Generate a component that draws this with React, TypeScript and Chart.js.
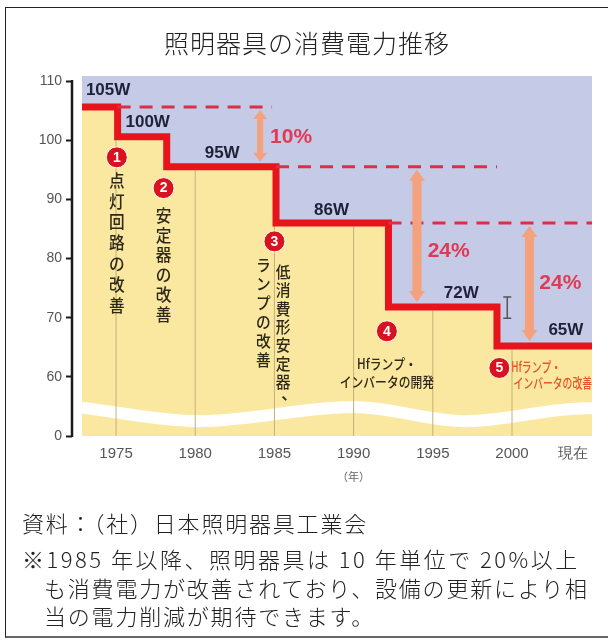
import React, { useEffect, useRef } from "react";
import { Chart, registerables } from "chart.js";
Chart.register(...registerables);

// ---------- data ----------
const stepYears = [1972.85, 1975.1, 1978.2, 1985.1, 1992.2, 1999.05];
const stepWatts = [105.6, 100.6, 95.5, 86.0, 71.8, 65.2];
const endYear = 2005.05;

const wattLabels = ["105W", "100W", "95W", "86W", "72W", "65W"];
const wattLabelYears = [1974.5, 1977.0, 1981.7, 1988.6, 1996.8, 2003.4];
const wattLabelValues = [108.4, 103.0, 97.8, 88.2, 74.2, 67.9];

const xTickValues = [1975, 1980, 1985, 1990, 1995, 2000, 2003.85];
const xTickLabels = ["1975", "1980", "1985", "1990", "1995", "2000", "現在"];
const yTickValues = [50, 60, 70, 80, 90, 100, 110];
const yTickLabels = ["0", "60", "70", "80", "90", "100", "110"];
const gridYears = [1975, 1980, 1985, 1990, 1995, 2000];

const waveYears = [1972.85, 1980.2, 1990.0, 1997.1, 2004.7, 2005.05];
const waveValues = [54.8, 52.5, 54.9, 52.5, 54.7, 54.7];

const dashFromYears = [1975.1, 1985.1, 1992.2];
const dashToYears = [1984.85, 1999.05, 2005.05];
const dashValues = [105.6, 95.5, 86.0];

const arrowYears = [1984.1, 1994.0, 2001.1];
const arrowTops = [105.6, 95.5, 86.0];
const arrowBottoms = [95.5, 71.8, 65.2];
const pctLabels = ["10%", "24%", "24%"];
const pctYears = [1986.05, 1996.0, 2003.05];
const pctValues = [100.5, 81.25, 75.8];

const stepNumbers = ["1", "2", "3", "4", "5"];
const numberYears = [1975.05, 1978.0, 1985.0, 1992.1, 1999.2];
const numberValues = [97.1, 91.9, 82.9, 67.7, 61.5];

const verticalTexts = ["点灯回路の改善", "安定器の改善", "低消費形安定器、", "ランプの改善"];
const verticalYears = [1975.05, 1978.0, 1985.55, 1984.3];
const verticalStartValues = [93.2, 87.3, 77.7, 78.9];

const hf4Lines = ["Hfランプ・", "インバータの開発"];
const hf4Years = [1992.1, 1992.1];
const hf4Values = [62.2, 59.1];
const hf5Lines = ["Hfランプ・", "インバータの改善"];
const hf5Years = [1999.95, 2000.1];
const hf5Values = [61.8, 59.0];

const cursorYear = 1999.7;
const cursorValues = [73.5, 69.9];

const yearUnitLabel = "（年）";
const yearUnitYear = 1990;
const yearUnitValue = 43.1;

const titleText = "照明器具の消費電力推移";
const noteLines = [
  "資料：（社）日本照明器具工業会",
  "※1985 年以降、照明器具は 10 年単位で 20%以上",
  "も消費電力が改善されており、設備の更新により相",
  "当の電力削減が期待できます。",
];

// ---------- helpers ----------
const JP = "'Noto Sans CJK JP', 'Noto Sans', sans-serif";
const LAT = "'Liberation Sans', Arial, sans-serif";

function drawText(ctx: any, text: string, cx: number, cy: number, font: string, color: string, align: string, sx = 1) {
  ctx.save();
  ctx.translate(cx, cy);
  ctx.scale(sx, 1);
  ctx.font = font;
  ctx.fillStyle = color;
  ctx.textAlign = align;
  ctx.textBaseline = "middle";
  ctx.fillText(text, 0, 0);
  ctx.restore();
}

const axisLinePlugin = {
  id: "axisLine",
  afterDraw(chart: any) {
    const { ctx, chartArea, scales } = chart;
    const y = scales.y;
    ctx.save();
    ctx.strokeStyle = "#1a1a1a";
    ctx.lineWidth = 2.5;
    ctx.beginPath();
    ctx.moveTo(chartArea.left, y.getPixelForValue(yTickValues[yTickValues.length - 1]) - 1);
    ctx.lineTo(chartArea.left, y.getPixelForValue(yTickValues[0]) + 1);
    ctx.stroke();
    ctx.restore();
  },
};

const annotationPlugin = {
  id: "annotations",
  afterDatasetsDraw(chart: any) {
    const { ctx, scales } = chart;
    const x = scales.x;
    const y = scales.y;
    ctx.save();
    // arrows
    arrowYears.forEach((yr, i) => {
      const px = x.getPixelForValue(yr);
      const top = y.getPixelForValue(arrowTops[i]) + 3;
      const bot = y.getPixelForValue(arrowBottoms[i]) - 5;
      const shaft = i === 0 ? 6 : 9;
      const hw = i === 0 ? 7 : 8;
      const hl = i === 0 ? 9 : 11;
      ctx.fillStyle = "#f4a27e";
      ctx.fillRect(px - shaft / 2, top + hl - 1, shaft, bot - top - 2 * hl + 2);
      ctx.beginPath();
      ctx.moveTo(px, top);
      ctx.lineTo(px + hw, top + hl);
      ctx.lineTo(px - hw, top + hl);
      ctx.closePath();
      ctx.fill();
      ctx.beginPath();
      ctx.moveTo(px, bot);
      ctx.lineTo(px + hw, bot - hl);
      ctx.lineTo(px - hw, bot - hl);
      ctx.closePath();
      ctx.fill();
    });
    // watt labels
    wattLabels.forEach((t, i) => {
      drawText(ctx, t, x.getPixelForValue(wattLabelYears[i]), y.getPixelForValue(wattLabelValues[i]), `bold 17px ${LAT}`, "#1e2238", "center");
    });
    // percentage labels
    pctLabels.forEach((t, i) => {
      drawText(ctx, t, x.getPixelForValue(pctYears[i]), y.getPixelForValue(pctValues[i]), `bold 21px ${LAT}`, "#e03a55", "center");
    });
    // circle numbers
    stepNumbers.forEach((t, i) => {
      drawText(ctx, t, x.getPixelForValue(numberYears[i]), y.getPixelForValue(numberValues[i]) + 0.5, `bold 14px ${LAT}`, "#ffffff", "center");
    });
    // vertical texts
    verticalTexts.forEach((t, i) => {
      const px = x.getPixelForValue(verticalYears[i]);
      let py = y.getPixelForValue(verticalStartValues[i]);
      const size = i < 2 ? 17 : 16;
      const step = i === 0 ? 20.8 : i === 1 ? 19.8 : i === 2 ? 18.3 : 19;
      Array.from(t).forEach((ch) => {
        if (ch === "、") {
          drawText(ctx, ch, px + 6, py - 7, `500 ${size}px ${JP}`, "#2e2818", "center");
        } else {
          drawText(ctx, ch, px, py, `500 ${size}px ${JP}`, "#2e2818", "center", 0.92);
        }
        py += step;
      });
    });
    // Hf labels
    hf4Lines.forEach((t, i) => {
      drawText(ctx, t, x.getPixelForValue(hf4Years[i]), y.getPixelForValue(hf4Values[i]), `500 14px ${JP}`, "#2e2818", "center", 0.84);
    });
    hf5Lines.forEach((t, i) => {
      drawText(ctx, t, x.getPixelForValue(hf5Years[i]), y.getPixelForValue(hf5Values[i]), `500 14px ${JP}`, "#e8542a", "left", 0.7);
    });
    // year unit
    drawText(ctx, yearUnitLabel, x.getPixelForValue(yearUnitYear), y.getPixelForValue(yearUnitValue), `11px ${JP}`, "#666", "center");
    ctx.restore();
  },
};

export default function App() {
  const canvasRef = useRef<HTMLCanvasElement | null>(null);

  useEffect(() => {
    if (!canvasRef.current) return;
    const stepPoints = stepYears.map((yr, i) => ({ x: yr, y: stepWatts[i] }));
    stepPoints.push({ x: endYear, y: stepWatts[stepWatts.length - 1] });
    const transparent = "rgba(0,0,0,0)";

    const gridSets = gridYears.map((yr) => ({
      label: "grid" + yr,
      data: [
        { x: yr, y: yTickValues[0] },
        { x: yr, y: yTickValues[yTickValues.length - 1] + 1 },
      ],
      borderColor: "#c2b07a",
      borderWidth: 1,
      pointRadius: 0,
      fill: false,
      order: 8,
    }));

    const dashSets = dashValues.map((v, i) => ({
      label: "dash" + i,
      data: [
        { x: dashFromYears[i], y: v },
        { x: dashToYears[i], y: v },
      ],
      borderColor: "#dc2f46",
      borderWidth: 3,
      borderDash: [13, 9],
      pointRadius: 0,
      fill: false,
      order: 4,
    }));

    const chart = new Chart(canvasRef.current, {
      type: "line",
      data: {
        datasets: [
          {
            label: "power",
            data: stepPoints,
            stepped: "before",
            borderColor: "#e8141c",
            borderWidth: 7,
            borderCapStyle: "butt",
            borderJoinStyle: "miter",
            pointRadius: 0,
            fill: false,
            order: 5,
          },
          {
            label: "above",
            data: stepPoints,
            stepped: "before",
            borderColor: transparent,
            borderWidth: 1,
            pointRadius: 0,
            fill: "end",
            backgroundColor: "#c5cae6",
            order: 7,
          },
          {
            label: "below",
            data: stepPoints,
            stepped: "before",
            borderColor: transparent,
            borderWidth: 1,
            pointRadius: 0,
            fill: "start",
            backgroundColor: "#fbe8a0",
            order: 10,
          },
          {
            label: "wave",
            data: waveYears.map((yr, i) => ({ x: yr, y: waveValues[i] })),
            borderColor: "#ffffff",
            borderWidth: 12,
            borderCapStyle: "butt",
            cubicInterpolationMode: "monotone",
            pointRadius: 0,
            fill: false,
            order: 9,
          },
          ...gridSets,
          ...dashSets,
          {
            label: "cursor",
            data: cursorValues.map((v) => ({ x: cursorYear, y: v })),
            borderColor: "#555",
            borderWidth: 1.5,
            pointStyle: "line",
            pointRadius: 4,
            pointBorderWidth: 1.5,
            pointBorderColor: "#555",
            fill: false,
            order: 3,
          },
          {
            label: "steps",
            data: numberYears.map((yr, i) => ({ x: yr, y: numberValues[i] })),
            showLine: false,
            pointRadius: 10.5,
            pointBackgroundColor: "#d8131d",
            pointBorderColor: "#ffffff",
            pointBorderWidth: 1,
            order: 1,
          },
        ] as any,
      },
      options: {
        responsive: false,
        animation: false,
        events: [],
        layout: { padding: { left: 0, right: 16, top: 76, bottom: 165 } },
        plugins: {
          legend: { display: false },
          tooltip: { enabled: false },
          title: { display: false },
        },
        scales: {
          x: {
            type: "linear",
            min: 1972.22,
            max: 2005.05,
            afterFit: (s: any) => {
              s.height = 40;
            },
            afterBuildTicks: (s: any) => {
              s.ticks = xTickValues.map((v) => ({ value: v }));
            },
            grid: { display: false, drawTicks: false },
            border: { display: false },
            ticks: {
              autoSkip: false,
              maxRotation: 0,
              padding: 9,
              color: "#555",
              font: { family: LAT, size: 15 },
              callback: (_v: any, i: number) => xTickLabels[i],
            },
          },
          y: {
            type: "linear",
            min: 50,
            max: 110.85,
            afterFit: (s: any) => {
              s.width = 72;
            },
            afterBuildTicks: (s: any) => {
              s.ticks = yTickValues.map((v) => ({ value: v }));
            },
            grid: {
              display: true,
              drawOnChartArea: false,
              drawTicks: true,
              tickLength: 6,
              tickWidth: 2,
              tickColor: "#1a1a1a",
            },
            border: { display: false },
            ticks: {
              autoSkip: false,
              padding: 4,
              color: "#555",
              font: { family: LAT, size: 14 },
              callback: (_v: any, i: number) => yTickLabels[i],
            },
          },
        },
      } as any,
      plugins: [axisLinePlugin, annotationPlugin],
    });
    return () => chart.destroy();
  }, []);

  const noteTops = [508, 544, 573, 601];
  const noteLefts = [22, 22, 44, 44];
  const noteSpacing = [1.8, 2.5, 1.8, 1.8];

  return (
    <div style={{ position: "fixed", left: 0, top: 0, width: 608, height: 641, background: "#fff", overflow: "hidden" }}>
      <div
        style={{
          position: "absolute",
          left: 5,
          top: 7,
          width: 610,
          height: 628,
          borderLeft: "1.5px solid #222",
          borderTop: "1.5px solid #222",
          borderBottom: "2px solid #666",
        }}
      />
      <canvas ref={canvasRef} width={608} height={641} style={{ position: "absolute", left: 0, top: 0 }} />
      <div
        style={{
          position: "absolute",
          left: 0,
          width: 614,
          top: 27,
          textAlign: "center",
          fontFamily: JP,
          fontWeight: 300,
          fontSize: 25,
          lineHeight: "30px",
          color: "#222",
          letterSpacing: 1,
        }}
      >
        {titleText}
      </div>
      {noteLines.map((t, i) => (
        <div
          key={i}
          style={{
            position: "absolute",
            left: noteLefts[i],
            top: noteTops[i],
            fontFamily: JP,
            fontWeight: 300,
            fontSize: 22,
            lineHeight: "28px",
            letterSpacing: noteSpacing[i],
            color: "#222",
            whiteSpace: "pre",
          }}
        >
          {t}
        </div>
      ))}
    </div>
  );
}
